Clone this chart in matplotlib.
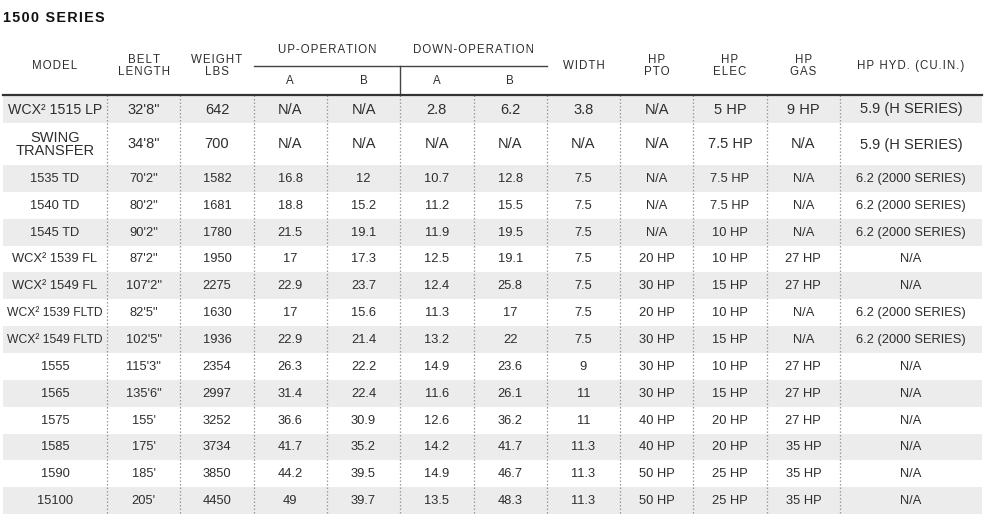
import matplotlib.pyplot as plt
from matplotlib.patches import Rectangle

plt.rcParams["font.family"] = ["Liberation Sans", "DejaVu Sans"]

title = "1500 SERIES"

models = ["WCX² 1515 LP", "SWING\nTRANSFER", "1535 TD", "1540 TD", "1545 TD",
          "WCX² 1539 FL", "WCX² 1549 FL", "WCX² 1539 FLTD", "WCX² 1549 FLTD",
          "1555", "1565", "1575", "1585", "1590", "15100"]
belt_length = ["32'8\"", "34'8\"", "70'2\"", "80'2\"", "90'2\"", "87'2\"",
               "107'2\"", "82'5\"", "102'5\"", "115'3\"", "135'6\"", "155'",
               "175'", "185'", "205'"]
weight = ["642", "700", "1582", "1681", "1780", "1950", "2275", "1630",
          "1936", "2354", "2997", "3252", "3734", "3850", "4450"]
up_a = ["N/A", "N/A", "16.8", "18.8", "21.5", "17", "22.9", "17", "22.9",
        "26.3", "31.4", "36.6", "41.7", "44.2", "49"]
up_b = ["N/A", "N/A", "12", "15.2", "19.1", "17.3", "23.7", "15.6", "21.4",
        "22.2", "22.4", "30.9", "35.2", "39.5", "39.7"]
down_a = ["2.8", "N/A", "10.7", "11.2", "11.9", "12.5", "12.4", "11.3",
          "13.2", "14.9", "11.6", "12.6", "14.2", "14.9", "13.5"]
down_b = ["6.2", "N/A", "12.8", "15.5", "19.5", "19.1", "25.8", "17", "22",
          "23.6", "26.1", "36.2", "41.7", "46.7", "48.3"]
width = ["3.8", "N/A", "7.5", "7.5", "7.5", "7.5", "7.5", "7.5", "7.5",
         "9", "11", "11", "11.3", "11.3", "11.3"]
hp_pto = ["N/A", "N/A", "N/A", "N/A", "N/A", "20 HP", "30 HP", "20 HP",
          "30 HP", "30 HP", "30 HP", "40 HP", "40 HP", "50 HP", "50 HP"]
hp_elec = ["5 HP", "7.5 HP", "7.5 HP", "7.5 HP", "10 HP", "10 HP", "15 HP",
           "10 HP", "15 HP", "10 HP", "15 HP", "20 HP", "20 HP", "25 HP",
           "25 HP"]
hp_gas = ["9 HP", "N/A", "N/A", "N/A", "N/A", "27 HP", "27 HP", "N/A", "N/A",
          "27 HP", "27 HP", "27 HP", "35 HP", "35 HP", "35 HP"]
hp_hyd = ["5.9 (H SERIES)", "5.9 (H SERIES)"] + ["6.2 (2000 SERIES)"] * 3 \
    + ["N/A", "N/A"] + ["6.2 (2000 SERIES)"] * 2 + ["N/A"] * 6

columns = [models, belt_length, weight, up_a, up_b, down_a, down_b, width,
           hp_pto, hp_elec, hp_gas, hp_hyd]
headers = ["MODEL", "BELT\nLENGTH", "WEIGHT\nLBS", "A", "B", "A", "B",
           "WIDTH", "HP\nPTO", "HP\nELEC", "HP\nGAS", "HP HYD. (CU.IN.)"]
groups = [("UP-OPERATION", 3, 4), ("DOWN-OPERATION", 5, 6)]


def track(s, n=1):
    # fake letter spacing with hair spaces
    gap = "\u200a" * n
    return "\n".join(gap.join(line) for line in s.split("\n"))


# layout in pixels
col_w = [104] + [73.3] * 10 + [142]
x0 = 3
edges = [x0]
for w in col_w:
    edges.append(edges[-1] + w)
row_h = [28, 42] + [26.85] * 13
head_bottom = 95
ys = [head_bottom]
for h in row_h:
    ys.append(ys[-1] + h)

text_c = "#2e2e2e"
line_c = "#999999"
band_c = "#ececec"

fig = plt.figure(figsize=(9.9, 5.3), dpi=100)
ax = fig.add_axes([0, 0, 1, 1])
ax.set_xlim(0, 990)
ax.set_ylim(530, 0)
ax.axis("off")

ax.text(x0, 18, track(title, 1), fontsize=10.4, fontweight="bold",
        color="#111111", ha="left", va="center")

# striped rows
for i in range(len(models)):
    if i % 2 == 0:
        ax.add_patch(Rectangle((edges[0], ys[i]), edges[-1] - edges[0],
                               row_h[i], facecolor=band_c, edgecolor="none"))

# cell text
for i in range(len(models)):
    yc = (ys[i] + ys[i + 1]) / 2
    fs = 10.5 if i < 2 else 9.3
    for j, col in enumerate(columns):
        xc = (edges[j] + edges[j + 1]) / 2
        txt = col[i]
        size = fs
        if j == 0 and "FLTD" in txt:
            size = fs - 0.6
        elif j == 0 and i == 0:
            size = fs - 0.3
        ax.text(xc, yc + 0.5, txt, fontsize=size, color=text_c, ha="center",
                va="center", linespacing=0.95)

# dotted column lines in body
for x in edges[1:-1]:
    ax.plot([x, x], [ys[0], ys[-1]], color=line_c, lw=0.9,
            linestyle=(0, (1.2, 1.6)))

# header
hfs = 8.3
for j, h in enumerate(headers):
    xc = (edges[j] + edges[j + 1]) / 2
    if h in ("A", "B"):
        ax.text(xc, 81, h, fontsize=hfs, color=text_c, ha="center",
                va="center")
    else:
        ax.text(xc, 66, track(h), fontsize=hfs, color=text_c, ha="center",
                va="center", linespacing=1.0)
for name, a, b in groups:
    xc = (edges[a] + edges[b + 1]) / 2
    ax.text(xc, 50, track(name), fontsize=hfs, color=text_c, ha="center",
            va="center")
ax.plot([edges[3], edges[7]], [66, 66], color="#444444", lw=1.0)
ax.plot([edges[5], edges[5]], [66, head_bottom], color="#444444", lw=1.0)
ax.plot([edges[0], edges[-1]], [head_bottom, head_bottom], color="#333333",
        lw=1.6)

fig.savefig("out.png", dpi=100)
